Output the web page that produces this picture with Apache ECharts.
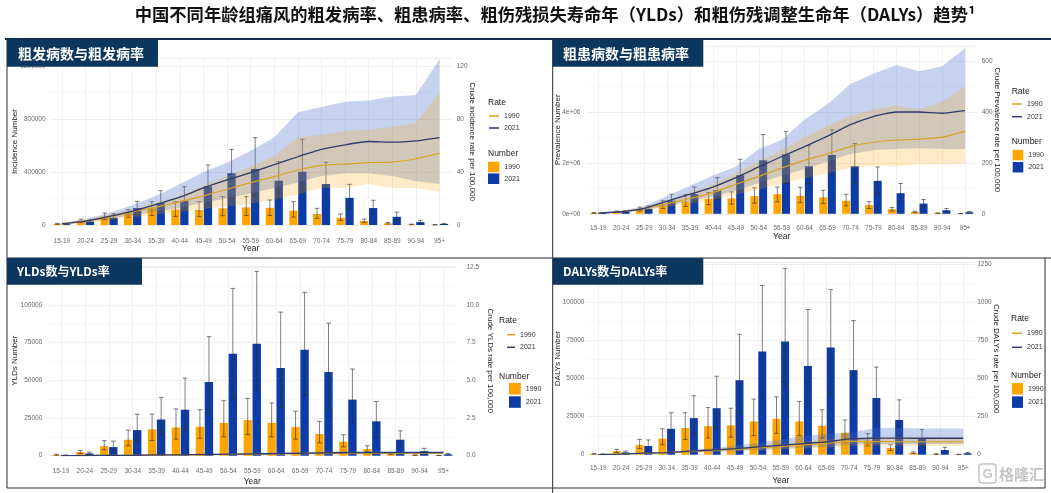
<!DOCTYPE html>
<html>
<head>
<meta charset="utf-8">
<script src="https://cdn.jsdelivr.net/npm/echarts/dist/echarts.min.js"></script>
<style>
    html, body {margin: 0; padding: 0; background: #fff;}
    #main {width: 1051px; height: 493px;}
</style>
</head>
<body>
<div id="main"></div>
<script>
const ages = ['15-19', '20-24', '25-29', '30-34', '35-39', '40-44', '45-49', '50-54', '55-59',
    '60-64', '65-69', '70-74', '75-79', '80-84', '85-89', '90-94', '95+'];

// 粗发病
const incNum1990 = [8000, 33000, 62000, 90000, 126000, 115000, 113000, 126000, 133000, 130000, 108000, 83000, 55000, 30000, 12000, 4000, 1500];
const incLow1990 = [5000, 22000, 40000, 58000, 72000, 65000, 63000, 70000, 72000, 72000, 60000, 50000, 35000, 20000, 8000, 2500, 800];
const incUp1990 = [12000, 45000, 90000, 115000, 176000, 176000, 176000, 214000, 214000, 189000, 176000, 126000, 83000, 45000, 20000, 7000, 2500];
const incNum2021 = [5000, 27000, 55000, 128000, 164000, 183000, 292000, 390000, 423000, 334000, 402000, 309000, 205000, 128000, 62000, 22000, 8000];
const incLow2021 = [3000, 18000, 35000, 85000, 100000, 110000, 150000, 200000, 220000, 200000, 240000, 190000, 125000, 80000, 38000, 13000, 5000];
const incUp2021 = [8000, 38000, 85000, 178000, 259000, 289000, 453000, 571000, 659000, 478000, 647000, 473000, 307000, 187000, 97000, 35000, 12000];
const incRate1990 = [1, 3, 6, 10, 13.5, 17.5, 22, 27, 32, 36.5, 41.5, 45, 46, 47, 47.5, 50, 54];
const incRateLow1990 = [0.5, 1.5, 3.5, 6, 8, 10, 12, 14, 16, 19, 23, 28, 28, 31, 28, 28, 25];
const incRateUp1990 = [1.5, 4, 8, 12, 17, 22, 30, 37, 44, 52, 66, 68, 71, 72, 74, 77, 100];
const incRate2021 = [1, 3, 6.5, 10.5, 15.5, 21, 28, 34, 39.5, 45.5, 51.5, 57, 60.5, 63, 62.5, 63.5, 66];
const incRateLow2021 = [0.5, 2, 4.5, 7.5, 10, 13, 17, 20, 24, 28, 32, 37, 39, 39, 37, 33, 31];
const incRateUp2021 = [1.5, 4.5, 9, 15, 22, 31, 40, 47, 56, 66, 85, 89, 93, 94, 97, 98, 125];

// 粗患病
const prevNum1990 = [30000, 80000, 180000, 340000, 480000, 590000, 610000, 695000, 770000, 707000, 644000, 512000, 344000, 180000, 75000, 25000, 8000];
const prevLow1990 = [18000, 50000, 110000, 210000, 290000, 360000, 380000, 420000, 470000, 440000, 400000, 310000, 210000, 110000, 45000, 15000, 5000];
const prevUp1990 = [50000, 110000, 260000, 510000, 755000, 835000, 860000, 1020000, 1055000, 1040000, 925000, 770000, 480000, 250000, 100000, 35000, 12000];
const prevNum2021 = [30000, 90000, 195000, 520000, 770000, 930000, 1516000, 2100000, 2336000, 1867000, 2310000, 1867000, 1293000, 810000, 400000, 140000, 60000];
const prevLow2021 = [18000, 55000, 120000, 320000, 480000, 560000, 880000, 1250000, 1190000, 1190000, 1500000, 1190000, 800000, 470000, 250000, 85000, 35000];
const prevUp2021 = [50000, 130000, 310000, 770000, 1055000, 1420000, 2140000, 3110000, 3240000, 2680000, 3300000, 2760000, 1840000, 1190000, 560000, 210000, 90000];
const prevRate1990 = [3, 8, 20, 40, 60, 83, 116, 147, 180, 210, 236, 264, 281, 290, 293, 301, 324];
const prevRateLow1990 = [2, 5, 13, 26, 40, 55, 75, 95, 118, 140, 160, 180, 190, 186, 195, 195, 200];
const prevRateUp1990 = [4, 11, 27, 55, 85, 115, 160, 205, 250, 300, 345, 385, 410, 425, 410, 440, 500];
const prevRate2021 = [3, 8, 21, 50, 77, 105, 142, 184, 225, 264, 305, 350, 382, 400, 400, 395, 405];
const prevRateLow2021 = [2, 5, 14, 32, 50, 68, 92, 120, 150, 175, 205, 235, 250, 255, 258, 255, 255];
const prevRateUp2021 = [4, 12, 30, 70, 110, 150, 185, 255, 290, 370, 430, 510, 550, 585, 560, 580, 650];

// YLDs (DALYs 数在图中与 YLDs 数一致)
const yldNum1990 = [500, 2400, 6400, 10600, 17500, 18700, 19200, 21800, 23600, 21800, 19000, 14400, 9300, 4400, 1300, 400, 200];
const yldLow1990 = [300, 1500, 4000, 6500, 10000, 11000, 11500, 12500, 14000, 12500, 11000, 8500, 5800, 2700, 800, 200, 100];
const yldUp1990 = [900, 3500, 10000, 17000, 27600, 31000, 30500, 36500, 38000, 35000, 29500, 22800, 13900, 6600, 1800, 600, 300];
const yldNum2021 = [300, 1500, 5700, 17000, 24000, 30500, 48900, 67700, 74300, 58200, 70300, 55500, 37200, 22800, 10600, 3100, 900];
const yldLow2021 = [150, 800, 3200, 9500, 14000, 17500, 27500, 37000, 44000, 32000, 40000, 31500, 21000, 12500, 6000, 1800, 500];
const yldUp2021 = [500, 2300, 9700, 27500, 38700, 51500, 79000, 111000, 122300, 95300, 108400, 88000, 57500, 36000, 16500, 4900, 1500];
const yldRate1990 = [0, 0.01, 0.02, 0.03, 0.045, 0.055, 0.07, 0.09, 0.105, 0.125, 0.145, 0.17, 0.165, 0.165, 0.165, 0.165, 0.165];
const yldRateLow1990 = [0, 0.005, 0.01, 0.015, 0.02, 0.025, 0.035, 0.045, 0.05, 0.06, 0.07, 0.085, 0.08, 0.08, 0.08, 0.08, 0.08];
const yldRateUp1990 = [0, 0.012, 0.025, 0.04, 0.06, 0.075, 0.1, 0.12, 0.15, 0.17, 0.19, 0.22, 0.21, 0.21, 0.21, 0.21, 0.21];
const yldRate2021 = [0, 0.01, 0.02, 0.03, 0.05, 0.06, 0.08, 0.1, 0.12, 0.14, 0.16, 0.19, 0.2, 0.2, 0.2, 0.2, 0.2];
const yldRateLow2021 = [0, 0.005, 0.01, 0.015, 0.025, 0.03, 0.04, 0.05, 0.06, 0.07, 0.08, 0.1, 0.11, 0.11, 0.11, 0.11, 0.11];
const yldRateUp2021 = [0, 0.015, 0.03, 0.045, 0.07, 0.09, 0.12, 0.15, 0.19, 0.22, 0.25, 0.28, 0.31, 0.32, 0.31, 0.31, 0.31];

// DALYs
const dalyRate1990 = [1, 4, 9, 13, 21, 27, 35, 44, 54, 64, 74, 88, 86, 85, 85, 85, 85];
const dalyRateLow1990 = [0.5, 2, 5, 8, 14, 18, 22, 28, 34, 40, 46, 58, 60, 60, 59, 59, 59];
const dalyRateUp1990 = [1.5, 5, 12, 17, 27, 35, 45, 57, 70, 85, 98, 112, 115, 116, 115, 115, 115];
const dalyRate2021 = [1, 4, 10, 14, 24, 31, 40, 51, 62, 73, 84, 104, 108, 109, 108, 108, 108];
const dalyRateLow2021 = [0.5, 2, 6, 9, 15, 20, 25, 32, 38, 45, 52, 65, 71, 71, 70, 70, 70];
const dalyRateUp2021 = [1.5, 6, 13, 19, 30, 42, 62, 77, 99, 121, 137, 144, 172, 177, 172, 172, 172];

const FONT = '"Liberation Sans", Arial, sans-serif';
const CJK = '"Noto Sans CJK SC", sans-serif';
const barColors = ['#FFA500', '#0E3CA6'];
const lineColors = ['#D8A225', '#2D3B6E'];
const bandColors = ['rgba(255,165,0,0.22)', 'rgba(65,105,200,0.3)'];

function sci(v) {
    if (v === 0) return '0e+00';
    const e = Math.floor(Math.log10(v));
    return Math.round(v / Math.pow(10, e)) + 'e+' + String(e).padStart(2, '0');
}

const panels = [
    {
        grid: {left: 50.1, top: 58, width: 401.2, height: 167},
        num: [incNum1990, incNum2021], low: [incLow1990, incLow2021], up: [incUp1990, incUp2021],
        rate: [incRate1990, incRate2021], rLow: [incRateLow1990, incRateLow2021], rUp: [incRateUp1990, incRateUp2021],
        leftName: 'Incidence Number', rightName: 'Crude incidence rate per 100,000',
        lMax: 1260000, lInt: 400000, rMax: 126, rInt: 40,
        lFmt: v => String(v), rFmt: v => String(v),
        lm: 4.5, lg: 31, rm: 5.4, rg: 16.7, xm: 13, xg: 19.5,
        leg: {tx: 488, rateY: 102.3, numY: 153.7, rx: 489, rw: 10, rt: 111, rgap: 2, nx: 488, nw: 11.3, nh: 10.6, nt: 161.7, ngap: 1.1}
    },
    {
        grid: {left: 586.9, top: 45.8, width: 389.6, height: 168},
        num: [prevNum1990, prevNum2021], low: [prevLow1990, prevLow2021], up: [prevUp1990, prevUp2021],
        rate: [prevRate1990, prevRate2021], rLow: [prevRateLow1990, prevRateLow2021], rUp: [prevRateUp1990, prevRateUp2021],
        leftName: 'Prevalence Number', rightName: 'Crude Prevalence rate per 100,000',
        lMax: 6600000, lInt: 2000000, rMax: 660, rInt: 200,
        lFmt: sci, rFmt: v => String(v),
        lm: 6.5, lg: 25.5, rm: 5.2, rg: 16.5, xm: 11, xg: 18.7,
        leg: {tx: 1011.7, rateY: 91.7, numY: 141.7, rx: 1012, rw: 10, rt: 99, rgap: 2.7, nx: 1012.7, nw: 10.6, nh: 10.5, nt: 149.8, ngap: 1.7}
    },
    {
        grid: {left: 49, top: 265.8, width: 406.5, height: 189.9},
        num: [yldNum1990, yldNum2021], low: [yldLow1990, yldLow2021], up: [yldUp1990, yldUp2021],
        rate: [yldRate1990, yldRate2021], rLow: [yldRateLow1990, yldRateLow2021], rUp: [yldRateUp1990, yldRateUp2021],
        leftName: 'YLDs Number', rightName: 'Crude YLDs rate per 100,000',
        lMax: 126000, lInt: 25000, rMax: 12.6, rInt: 2.5,
        lFmt: v => String(v), rFmt: v => v.toFixed(1),
        lm: 6.7, lg: 30, rm: 11, rg: 30.5, xm: 12, xg: 21,
        leg: {tx: 499, rateY: 320.7, numY: 376.3, rx: 507, rw: 8, rt: 329.7, rgap: 2.6, nx: 509, nw: 11.8, nh: 11.5, nt: 383, ngap: 1.8}
    },
    {
        grid: {left: 586.9, top: 262.7, width: 387.8, height: 192},
        num: [yldNum1990, yldNum2021], low: [yldLow1990, yldLow2021], up: [yldUp1990, yldUp2021],
        rate: [dalyRate1990, dalyRate2021], rLow: [dalyRateLow1990, dalyRateLow2021], rUp: [dalyRateUp1990, dalyRateUp2021],
        leftName: "DALYs Number", rightName: "Crude DALYs rate per 100,000",
        lMax: 126000, lInt: 25000, rMax: 1260, rInt: 250,
        lFmt: v => String(v), rFmt: v => String(v),
        lm: 2.5, lg: 25.5, rm: 2.5, rg: 17.3, xm: 10.5, xg: 21,
        leg: {tx: 1011, rateY: 318.7, numY: 375.3, rx: 1012, rw: 10, rt: 328.3, rgap: 4, nx: 1012, nw: 11, nh: 11.5, nt: 383, ngap: 1.9}
    }
];

function errorBars(side) {
    return function (params, api) {
        const k = api.value(0);
        const lo = api.coord([k, api.value(1)]);
        const hi = api.coord([k, api.value(2)]);
        const band = api.size([1, 0])[0];
        const x = lo[0] + side * band * 0.189;
        const cap = band * 0.1;
        const style = {stroke: 'rgba(45,45,45,0.6)', lineWidth: 1};
        return {
            type: 'group', children: [
                {type: 'line', shape: {x1: x, y1: lo[1], x2: x, y2: hi[1]}, style: style},
                {type: 'line', shape: {x1: x - cap, y1: hi[1], x2: x + cap, y2: hi[1]}, style: style},
                {type: 'line', shape: {x1: x - cap, y1: lo[1], x2: x + cap, y2: lo[1]}, style: style}
            ]
        };
    };
}

const grids = [], xAxes = [], yAxes = [], series = [], legends = [], graphics = [];
const years = ['1990', '2021'];

panels.forEach((p, i) => {
    grids.push(Object.assign({outerBoundsMode: 'none', containLabel: false}, p.grid));
    xAxes.push({
        type: 'category', gridIndex: i, data: ages,
        name: 'Year', nameLocation: 'middle', nameGap: p.xg, nameMoveOverlap: false,
        nameTextStyle: {fontSize: 8.5, color: '#222', fontFamily: FONT},
        axisLine: {show: false}, axisTick: {show: false},
        axisLabel: {interval: 0, fontSize: 6.5, color: '#6b6b6b', margin: p.xm, fontFamily: FONT},
        splitLine: {show: true, alignWithLabel: true, lineStyle: {color: '#EEEEEE', width: 0.8}}
    });
    yAxes.push({
        type: 'value', gridIndex: i, position: 'left', min: 0, max: p.lMax, interval: p.lInt,
        name: p.leftName, nameLocation: 'middle', nameGap: p.lg, nameMoveOverlap: false,
        nameTextStyle: {fontSize: 8, color: '#222', fontFamily: FONT},
        axisLine: {show: false}, axisTick: {show: false},
        axisLabel: {fontSize: 6.5, color: '#6b6b6b', margin: p.lm, showMaxLabel: false, formatter: p.lFmt, fontFamily: FONT},
        splitLine: {lineStyle: {color: '#EAEAEA', width: 0.8}},
        minorTick: {show: false, splitNumber: 2},
        minorSplitLine: {show: true, lineStyle: {color: '#F4F4F4', width: 0.6}}
    });
    yAxes.push({
        type: 'value', gridIndex: i, position: 'right', min: 0, max: p.rMax, interval: p.rInt,
        name: p.rightName, nameLocation: 'middle', nameGap: p.rg, nameRotate: -90, nameMoveOverlap: false,
        nameTextStyle: {fontSize: 8, color: '#222', fontFamily: FONT},
        axisLine: {show: false}, axisTick: {show: false},
        axisLabel: {fontSize: 6.5, color: '#6b6b6b', margin: p.rm, showMaxLabel: false, formatter: p.rFmt, fontFamily: FONT},
        splitLine: {show: false}
    });

    years.forEach((yr, j) => {
        series.push({
            name: 'Number ' + yr, type: 'bar', xAxisIndex: i, yAxisIndex: 2 * i,
            data: p.num[j], barWidth: '35%', barGap: '8%', color: barColors[j],
            itemStyle: {color: barColors[j]}, z: 2, silent: true
        });
    });
    years.forEach((yr, j) => {
        series.push({
            name: 'err' + yr + '_' + i, type: 'custom', xAxisIndex: i, yAxisIndex: 2 * i,
            renderItem: errorBars(j === 0 ? -1 : 1),
            encode: {x: 0, y: [1, 2]},
            data: ages.map((a, k) => [k, p.low[j][k], p.up[j][k]]), z: 3, silent: true
        });
    });
    // ribbons: 2021 first, 1990 on top
    [1, 0].forEach(j => {
        const stack = 'band' + years[j] + '_' + i;
        series.push({
            name: stack + '_lo', type: 'line', xAxisIndex: i, yAxisIndex: 2 * i + 1, stack: stack,
            data: p.rLow[j], symbol: 'none', lineStyle: {width: 0, opacity: 0}, z: 4, silent: true
        });
        series.push({
            name: stack + '_w', type: 'line', xAxisIndex: i, yAxisIndex: 2 * i + 1, stack: stack,
            data: p.rUp[j].map((u, k) => u - p.rLow[j][k]), symbol: 'none',
            lineStyle: {width: 0, opacity: 0}, areaStyle: {color: bandColors[j], opacity: 1}, z: 4, silent: true
        });
    });
    years.forEach((yr, j) => {
        series.push({
            name: 'Rate ' + yr, type: 'line', xAxisIndex: i, yAxisIndex: 2 * i + 1,
            data: p.rate[j], symbol: 'none', smooth: 0.15, color: lineColors[j],
            lineStyle: {color: lineColors[j], width: j === 0 ? 1.2 : 1.3}, z: 5, silent: true
        });
    });

    const g = p.leg;
    legends.push({
        data: ['Rate 1990', 'Rate 2021'], orient: 'vertical', left: g.rx, top: g.rt, padding: 0,
        icon: 'rect', itemWidth: g.rw, itemHeight: 1.5, itemGap: g.rgap, selectedMode: false,
        formatter: n => n.slice(-4),
        textStyle: {fontSize: 7, lineHeight: 10, color: '#333', fontFamily: FONT}
    });
    legends.push({
        data: ['Number 1990', 'Number 2021'], orient: 'vertical', left: g.nx, top: g.nt, padding: 0,
        icon: 'rect', itemWidth: g.nw, itemHeight: g.nh, itemGap: g.ngap, selectedMode: false,
        formatter: n => n.slice(-4),
        textStyle: {fontSize: 7, lineHeight: 10, color: '#333', fontFamily: FONT}
    });
    graphics.push({type: 'text', x: g.tx, y: g.rateY, z: 50,
        style: {text: 'Rate', fill: '#222', font: '8.5px ' + FONT, align: 'left', verticalAlign: 'middle', textAlign: 'left', textVerticalAlign: 'middle'}});
    graphics.push({type: 'text', x: g.tx, y: g.numY, z: 50,
        style: {text: 'Number', fill: '#222', font: '8.5px ' + FONT, align: 'left', verticalAlign: 'middle', textAlign: 'left', textVerticalAlign: 'middle'}});
});

// 面板标题框
const boxes = [
    {x: 7, y: 40, w: 151, text: '粗发病数与粗发病率', tx: 18, size: 14},
    {x: 552.7, y: 40, w: 150.6, text: '粗患病数与粗患病率', tx: 563, size: 14},
    {x: 7, y: 258, w: 135, text: 'YLDs数与YLDs率', tx: 17, size: 12},
    {x: 552.7, y: 258, w: 150.6, text: 'DALYs数与DALYs率', tx: 563, size: 12}
];
boxes.forEach(b => {
    graphics.push({type: 'rect', z: 100, shape: {x: b.x, y: b.y, width: b.w, height: 26.7}, style: {fill: '#0B365E'}});
    graphics.push({type: 'text', z: 101, x: b.tx, y: b.y + 13.5,
        style: {text: b.text, fill: '#fff', font: 'bold ' + b.size + 'px ' + CJK, align: 'left', verticalAlign: 'middle', textAlign: 'left', textVerticalAlign: 'middle'}});
});

const borderLines = [
    [7, 40, 7, 258], [7, 258, 552, 258], [7, 258, 7, 488], [7, 488, 552, 488],
    [552.7, 40, 552.7, 493], [552.7, 258, 1051, 258], [552.7, 488, 1045, 488], [1045, 258, 1045, 488]
];
borderLines.forEach(l => {
    graphics.push({type: 'line', z: 90, shape: {x1: l[0], y1: l[1], x2: l[2], y2: l[3]}, style: {stroke: '#2a2a2a', lineWidth: 1}});
});
graphics.push({type: 'line', z: 91, shape: {x1: 5, y1: 39, x2: 1051, y2: 39}, style: {stroke: '#10304F', lineWidth: 2}});

graphics.push({type: 'text', z: 100, x: 555, y: 14,
    style: {text: '中国不同年龄组痛风的粗发病率、粗患病率、粗伤残损失寿命年（YLDs）和粗伤残调整生命年（DALYs）趋势¹',
        fill: '#111', font: 'bold 17.3px ' + CJK, align: 'center', verticalAlign: 'middle', textAlign: 'center', textVerticalAlign: 'middle'}});

// 水印
graphics.push({type: 'rect', z: 60, shape: {x: 979, y: 464, width: 17, height: 19, r: 3}, style: {fill: 'none', stroke: '#C4C4C4', lineWidth: 1.5}});
graphics.push({type: 'text', z: 60, x: 987.5, y: 474,
    style: {text: 'G', fill: '#C4C4C4', font: 'bold 13px ' + FONT, align: 'center', verticalAlign: 'middle', textAlign: 'center', textVerticalAlign: 'middle'}});
graphics.push({type: 'text', z: 60, x: 999, y: 474,
    style: {text: '格隆汇', fill: '#C4C4C4', font: 'bold 15px ' + CJK, align: 'left', verticalAlign: 'middle', textAlign: 'left', textVerticalAlign: 'middle'}});

const chart = echarts.init(document.getElementById('main'));
chart.setOption({
    animation: false,
    backgroundColor: '#fff',
    grid: grids,
    xAxis: xAxes,
    yAxis: yAxes,
    legend: legends,
    series: series,
    graphic: graphics
});
</script>
</body>
</html>
